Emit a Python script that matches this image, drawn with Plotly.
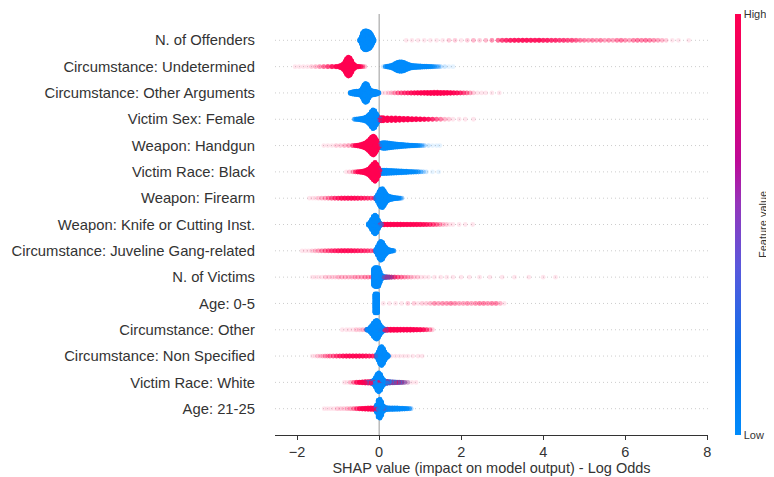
import plotly.graph_objects as go

# ---------------- data ----------------
FEATURES = [
    "N. of Offenders",
    "Circumstance: Undetermined",
    "Circumstance: Other Arguments",
    "Victim Sex: Female",
    "Weapon: Handgun",
    "Victim Race: Black",
    "Weapon: Firearm",
    "Weapon: Knife or Cutting Inst.",
    "Circumstance: Juveline Gang-related",
    "N. of Victims",
    "Age: 0-5",
    "Circumstance: Other",
    "Circumstance: Non Specified",
    "Victim Race: White",
    "Age: 21-25",
]

X_TICKS = [-2, 0, 2, 4, 6, 8]
COLORBAR_LABELS = ["Low", "High"]

# each entry: [SHAP value, approximate number of samples]
offenders_low = [[-0.47, 100], [-0.43, 400], [-0.40, 800], [-0.37, 950], [-0.34, 1000], [-0.31, 1000],
                 [-0.28, 950], [-0.25, 900], [-0.22, 800], [-0.19, 600], [-0.16, 350], [-0.13, 120]]
offenders_high = [[0.66, 1], [0.8, 1], [0.95, 1], [1.1, 1], [1.25, 1], [1.4, 1], [1.55, 1], [1.7, 2], [1.85, 2],
                  [2.0, 1], [2.15, 2], [2.3, 3], [2.45, 2], [2.6, 3], [2.75, 5], [2.9, 8], [3.0, 12], [3.1, 15],
                  [3.2, 18], [3.3, 20], [3.4, 20], [3.5, 22], [3.6, 22], [3.7, 20], [3.8, 20], [3.9, 22], [4.0, 18],
                  [4.1, 18], [4.2, 15], [4.3, 15], [4.4, 13], [4.5, 13], [4.6, 11], [4.7, 11], [4.8, 9], [4.9, 7],
                  [5.0, 6], [5.1, 5], [5.2, 6], [5.3, 5], [5.4, 6], [5.5, 4], [5.6, 5], [5.7, 4], [5.8, 6],
                  [5.9, 7], [6.0, 5], [6.1, 4], [6.2, 6], [6.3, 7], [6.4, 6], [6.5, 7], [6.6, 6], [6.7, 5],
                  [6.8, 4], [6.9, 3], [7.0, 2], [7.15, 1], [7.3, 1], [7.55, 1]]

undetermined_low = [[0.1, 2], [0.15, 15], [0.2, 40], [0.25, 80], [0.3, 130], [0.35, 220], [0.4, 350], [0.45, 450],
                    [0.5, 500], [0.55, 500], [0.6, 450], [0.65, 350], [0.7, 250], [0.75, 180], [0.8, 140],
                    [0.85, 110], [0.9, 95], [0.95, 80], [1.0, 70], [1.05, 60], [1.1, 50], [1.15, 40], [1.2, 30],
                    [1.25, 22], [1.3, 15], [1.35, 10], [1.4, 7], [1.45, 5], [1.5, 3], [1.6, 2], [1.7, 1], [1.8, 1]]
undetermined_high = [[-2.05, 1], [-1.95, 1], [-1.85, 1], [-1.75, 1], [-1.65, 2], [-1.55, 3], [-1.45, 5],
                     [-1.35, 8], [-1.25, 12], [-1.15, 20], [-1.05, 35], [-0.97, 70], [-0.92, 150], [-0.87, 300],
                     [-0.83, 550], [-0.79, 850], [-0.75, 1000], [-0.71, 900], [-0.67, 600], [-0.63, 300],
                     [-0.59, 130], [-0.55, 60], [-0.5, 30], [-0.45, 15], [-0.4, 7], [-0.35, 3]]

arguments_low = [[-0.7, 60], [-0.65, 120], [-0.6, 160], [-0.55, 180], [-0.5, 200], [-0.45, 280], [-0.41, 500],
                 [-0.37, 850], [-0.33, 1000], [-0.29, 900], [-0.25, 550], [-0.21, 300], [-0.17, 220],
                 [-0.13, 200], [-0.09, 170], [-0.05, 110], [-0.01, 40]]
arguments_high = [[0.08, 1], [0.15, 1], [0.22, 2], [0.3, 3], [0.38, 5], [0.46, 8], [0.54, 10], [0.62, 13],
                  [0.7, 16], [0.78, 20], [0.86, 25], [0.94, 30], [1.02, 38], [1.1, 45], [1.18, 55], [1.26, 65],
                  [1.34, 70], [1.42, 70], [1.5, 65], [1.58, 55], [1.66, 45], [1.74, 35], [1.82, 26], [1.9, 20],
                  [1.98, 15], [2.06, 10], [2.14, 7], [2.22, 4], [2.3, 2], [2.4, 1], [2.5, 1], [2.6, 1],
                  [2.75, 1], [2.93, 1]]

female_low = [[-0.6, 15], [-0.55, 30], [-0.5, 50], [-0.45, 80], [-0.4, 120], [-0.35, 170], [-0.31, 250],
              [-0.27, 380], [-0.23, 550], [-0.19, 800], [-0.15, 1000], [-0.11, 900], [-0.07, 600],
              [-0.03, 300], [0.01, 120], [0.05, 40]]
female_high = [[0.0, 150], [0.05, 160], [0.1, 160], [0.2, 150], [0.3, 140], [0.4, 130], [0.5, 115], [0.6, 100],
               [0.7, 85], [0.8, 70], [0.9, 55], [1.0, 42], [1.1, 32], [1.2, 22], [1.3, 15], [1.4, 9],
               [1.5, 6], [1.6, 3], [1.7, 2], [1.8, 1], [1.95, 1], [2.1, 1], [2.3, 1]]

handgun_low = [[0.03, 200], [0.07, 280], [0.11, 300], [0.15, 300], [0.2, 280], [0.25, 250], [0.3, 220],
               [0.35, 190], [0.4, 170], [0.45, 150], [0.5, 130], [0.55, 110], [0.6, 95], [0.65, 80], [0.7, 65],
               [0.75, 50], [0.8, 40], [0.85, 30], [0.9, 22], [0.95, 15], [1.0, 10], [1.05, 6], [1.1, 4],
               [1.2, 2], [1.3, 1], [1.4, 1], [1.48, 1]]
handgun_high = [[-1.35, 1], [-1.25, 1], [-1.15, 1], [-1.05, 2], [-0.95, 2], [-0.85, 3], [-0.75, 4], [-0.65, 10],
                [-0.58, 25], [-0.52, 50], [-0.46, 100], [-0.4, 170], [-0.35, 250], [-0.3, 380], [-0.26, 520],
                [-0.22, 700], [-0.18, 900], [-0.14, 1000], [-0.1, 850], [-0.06, 550], [-0.02, 250], [0.02, 80]]

black_low = [[0.03, 150], [0.07, 180], [0.12, 180], [0.18, 170], [0.24, 160], [0.3, 150], [0.36, 140],
             [0.42, 125], [0.48, 110], [0.54, 95], [0.6, 80], [0.66, 65], [0.72, 50], [0.78, 38], [0.84, 28],
             [0.9, 18], [0.96, 12], [1.02, 7], [1.08, 4], [1.15, 2], [1.3, 1], [1.45, 1]]
black_high = [[-0.8, 1], [-0.72, 2], [-0.64, 4], [-0.58, 10], [-0.52, 22], [-0.46, 45], [-0.4, 80], [-0.35, 130],
              [-0.3, 200], [-0.26, 300], [-0.22, 450], [-0.18, 650], [-0.14, 850], [-0.1, 1000], [-0.06, 800],
              [-0.02, 450], [0.02, 150]]

firearm_low = [[-0.08, 100], [-0.04, 350], [0.0, 700], [0.04, 950], [0.08, 1000], [0.12, 800], [0.16, 500],
               [0.2, 300], [0.24, 200], [0.28, 150], [0.32, 110], [0.36, 80], [0.4, 55], [0.44, 35],
               [0.48, 20], [0.52, 10], [0.56, 4]]
firearm_high = [[-1.7, 1], [-1.62, 1], [-1.55, 1], [-1.48, 2], [-1.4, 3], [-1.32, 4], [-1.24, 6], [-1.16, 9],
                [-1.08, 13], [-1.0, 17], [-0.92, 21], [-0.84, 24], [-0.76, 26], [-0.68, 26], [-0.6, 24],
                [-0.52, 21], [-0.44, 18], [-0.36, 15], [-0.28, 13], [-0.2, 11], [-0.12, 9], [-0.06, 6]]

knife_low = [[-0.26, 80], [-0.22, 250], [-0.18, 550], [-0.14, 850], [-0.1, 1000], [-0.06, 850], [-0.02, 450],
             [0.02, 150], [0.06, 40]]
knife_high = [[0.02, 40], [0.06, 45], [0.12, 48], [0.2, 48], [0.28, 47], [0.36, 45], [0.44, 43], [0.52, 41],
              [0.6, 39], [0.68, 37], [0.76, 34], [0.84, 31], [0.92, 28], [1.0, 25], [1.08, 22], [1.16, 18],
              [1.24, 14], [1.32, 11], [1.4, 8], [1.48, 5], [1.56, 3], [1.64, 2], [1.72, 1], [1.8, 1],
              [1.95, 1], [2.1, 1], [2.28, 1]]

gang_low = [[-0.08, 150], [-0.04, 450], [0.0, 800], [0.04, 1000], [0.08, 900], [0.12, 600], [0.16, 350],
            [0.2, 200], [0.24, 120], [0.28, 70], [0.32, 40], [0.36, 15]]
gang_high = [[-1.88, 1], [-1.8, 1], [-1.72, 1], [-1.64, 2], [-1.56, 3], [-1.48, 4], [-1.4, 6], [-1.32, 8],
             [-1.24, 10], [-1.16, 13], [-1.08, 16], [-1.0, 19], [-0.92, 21], [-0.84, 22], [-0.76, 22],
             [-0.68, 21], [-0.6, 19], [-0.52, 17], [-0.44, 15], [-0.36, 13], [-0.28, 11], [-0.2, 9],
             [-0.12, 7], [-0.06, 5]]

victims_low = [[-0.13, 900], [-0.1, 1000], [-0.07, 1000], [-0.04, 1000], [-0.01, 950], [0.02, 600],
               [0.06, 200], [0.1, 80], [0.15, 40], [0.2, 20], [0.25, 10], [0.3, 5], [0.35, 3]]
victims_high = [[-1.63, 1], [-1.55, 1], [-1.47, 1], [-1.39, 1], [-1.31, 2], [-1.23, 2], [-1.15, 2], [-1.07, 2],
                [-0.99, 3], [-0.91, 3], [-0.83, 3], [-0.75, 3], [-0.67, 3], [-0.59, 4], [-0.51, 4], [-0.43, 4],
                [-0.35, 5], [-0.27, 5], [-0.19, 6], [0.06, 22], [0.12, 22], [0.18, 20], [0.24, 18], [0.3, 15],
                [0.38, 12], [0.46, 9], [0.54, 7], [0.62, 5], [0.7, 4], [0.78, 3], [0.86, 2], [0.94, 2],
                [1.02, 1], [1.1, 1], [1.2, 1], [1.35, 1], [1.5, 1], [1.65, 1], [1.8, 1], [2.0, 1], [2.2, 1],
                [2.45, 1], [2.7, 1], [3.0, 1], [3.3, 1], [3.65, 1], [4.0, 1], [4.3, 1]]

age05_low = [[-0.1, 1000], [-0.07, 1000], [-0.04, 1000]]
age05_high = [[0.1, 1], [0.25, 1], [0.4, 1], [0.55, 1], [0.7, 2], [0.85, 2], [0.95, 1], [1.05, 2], [1.15, 2],
              [1.25, 3], [1.35, 5], [1.45, 4], [1.55, 5], [1.65, 5], [1.75, 6], [1.85, 5], [1.95, 4],
              [2.05, 4], [2.15, 5], [2.25, 4], [2.35, 5], [2.45, 6], [2.55, 6], [2.65, 5], [2.75, 6],
              [2.85, 6], [2.95, 3], [3.05, 1]]

other_low = [[-0.3, 40], [-0.26, 100], [-0.22, 250], [-0.18, 450], [-0.14, 700], [-0.1, 900], [-0.06, 1000],
             [-0.02, 850], [0.02, 550], [0.06, 300], [0.1, 150], [0.14, 60], [0.18, 20]]
other_high = [[-0.9, 1], [-0.8, 1], [-0.72, 1], [-0.64, 1], [-0.56, 2], [-0.48, 2], [-0.4, 3], [-0.32, 3],
              [-0.24, 4], [0.04, 40], [0.08, 60], [0.14, 70], [0.2, 75], [0.28, 75], [0.36, 70], [0.44, 66],
              [0.52, 62], [0.6, 58], [0.68, 55], [0.76, 52], [0.84, 46], [0.92, 38], [1.0, 30], [1.08, 20],
              [1.16, 11], [1.24, 5], [1.3, 2]]

nonspec_low = [[-0.06, 150], [-0.02, 450], [0.02, 850], [0.06, 1000], [0.1, 800], [0.14, 450], [0.18, 200],
               [0.22, 60]]
nonspec_high = [[-1.63, 1], [-1.56, 1], [-1.5, 2], [-1.44, 2], [-1.38, 3], [-1.32, 4], [-1.26, 5], [-1.2, 7],
                [-1.12, 9], [-1.04, 12], [-0.96, 16], [-0.88, 20], [-0.8, 24], [-0.72, 26], [-0.64, 27],
                [-0.56, 27], [-0.48, 26], [-0.4, 24], [-0.32, 21], [-0.24, 18], [-0.16, 15], [-0.08, 11],
                [0.22, 1], [0.3, 1], [0.4, 1], [0.5, 1], [0.6, 1], [0.7, 1], [0.82, 1], [0.95, 1], [1.05, 1]]

white_low = [[-0.35, 10], [-0.28, 25], [-0.22, 60], [-0.17, 130], [-0.13, 250], [-0.09, 500], [-0.05, 850],
             [-0.01, 1000], [0.03, 850], [0.07, 500], [0.11, 250], [0.15, 140], [0.2, 90], [0.26, 70],
             [0.32, 55], [0.38, 40], [0.44, 28], [0.5, 18], [0.56, 10], [0.62, 5], [0.7, 2]]
white_high = [[-0.85, 1], [-0.78, 1], [-0.7, 3], [-0.62, 7], [-0.55, 18], [-0.48, 35], [-0.41, 55],
              [-0.34, 70], [-0.27, 80], [-0.2, 90], [-0.13, 100], [-0.06, 110], [0.0, 110], [0.06, 100],
              [0.13, 85], [0.2, 65], [0.27, 50], [0.34, 38], [0.41, 27], [0.48, 18], [0.55, 11], [0.62, 6],
              [0.7, 3], [0.8, 1], [0.9, 1]]

age2125_low = [[-0.1, 80], [-0.06, 400], [-0.02, 900], [0.02, 1000], [0.06, 700], [0.1, 300], [0.14, 150],
               [0.2, 100], [0.26, 90], [0.32, 85], [0.38, 80], [0.44, 75], [0.5, 65], [0.56, 50], [0.62, 38],
               [0.68, 25], [0.74, 12], [0.78, 4]]
age2125_high = [[-1.34, 1], [-1.26, 1], [-1.18, 1], [-1.1, 1], [-1.02, 2], [-0.94, 2], [-0.86, 2], [-0.78, 3],
                [-0.7, 4], [-0.62, 6], [-0.55, 11], [-0.48, 22], [-0.41, 38], [-0.34, 55], [-0.27, 70],
                [-0.2, 80], [-0.13, 90], [-0.06, 90], [0.0, 70], [0.06, 35], [0.12, 18], [0.2, 8], [0.3, 4]]

LOW = [offenders_low, undetermined_low, arguments_low, female_low, handgun_low, black_low, firearm_low,
       knife_low, gang_low, victims_low, age05_low, other_low, nonspec_low, white_low, age2125_low]
HIGH = [offenders_high, undetermined_high, arguments_high, female_high, handgun_high, black_high, firearm_high,
        knife_high, gang_high, victims_high, age05_high, other_high, nonspec_high, white_high, age2125_high]

# ---------------- style ----------------
COLORSCALE = [[0.0, "#008bfb"], [0.2, "#0a70ec"], [0.4, "#5a58dc"], [0.55, "#9535bb"],
              [0.65, "#bd0a98"], [0.8, "#e2006f"], [1.0, "#ff0051"]]
ALPHA = 0.1           # opacity of one sample
HALF_WIDTH = 0.36     # max half height of a swarm (in rows)
MAX_MARKS = 60        # marks drawn for the densest bin of a feature
FONT = "Liberation Sans, Arial, sans-serif"

xs, ys, cs, ops = [], [], [], []
n_feat = len(FEATURES)
for i in range(n_feat):
    row = n_feat - 1 - i
    groups = [(LOW[i], 0.0), (HIGH[i], 1.0)]
    cmax = max(c for g, _ in groups for _, c in g)
    pts = []
    for g, val in groups:
        for x, c in g:
            m = max(min(c, 6), round(c * MAX_MARKS / cmax))
            hw = HALF_WIDTH * c / cmax
            op = 1 - (1 - ALPHA) ** (c / m)
            for k in range(m):
                off = 0.0 if m == 1 else -hw + 2 * hw * k / (m - 1)
                pts.append((x, row + off, val, op))
    # interleave the two colour groups in a fixed, well-mixed drawing order
    order = sorted(range(len(pts)), key=lambda j: (j * 0.6180339887) % 1.0)
    for j in order:
        x, y, v, o = pts[j]
        xs.append(x)
        ys.append(y)
        cs.append(v)
        ops.append(o)

fig = go.Figure()

fig.add_trace(go.Scatter(
    x=xs, y=ys, mode="markers", hoverinfo="skip",
    marker=dict(
        size=4.8, color=cs, cmin=0, cmax=1, colorscale=COLORSCALE, opacity=ops,
        line=dict(width=0),
        showscale=True,
        colorbar=dict(
            x=1.0624, xanchor="left", xpad=0, y=0.5, yanchor="middle", ypad=0,
            len=1.0, lenmode="fraction", thickness=6, outlinewidth=0,
            tickvals=[0.0005, 0.9995], ticktext=COLORBAR_LABELS, ticks="",
            tickfont=dict(family=FONT, size=11, color="#333333"),
        ),
    ),
))

shapes = []
for r in range(n_feat):
    shapes.append(dict(type="line", xref="paper", yref="y", x0=0, x1=1, y0=r, y1=r,
                       line=dict(color="#cccccc", width=1, dash="1px,3px"), layer="below"))
shapes.append(dict(type="line", xref="x", yref="paper", x0=0, x1=0, y0=0, y1=1,
                   line=dict(color="#999999", width=1), layer="below"))

# the page adds an 8px body margin, so the figure is 8px smaller than the window
fig.update_layout(
    width=766, height=469,
    margin=dict(l=267, r=66, t=6, b=42, autoexpand=False),
    paper_bgcolor="white", plot_bgcolor="white",
    showlegend=False,
    font=dict(family=FONT, color="#333333"),
    shapes=shapes,
    annotations=[dict(text="Feature value", textangle=-90, xref="paper", yref="paper",
                      x=1.126, y=0.5, xanchor="center", yanchor="middle", showarrow=False,
                      font=dict(family=FONT, size=11, color="#333333"))],
    xaxis=dict(
        range=[-2.54, 8.02], tickvals=X_TICKS, showgrid=False, zeroline=False,
        showline=True, linecolor="#333333", linewidth=1,
        ticks="outside", ticklen=4, tickcolor="#333333",
        tickfont=dict(family=FONT, size=14.5, color="#333333"),
        title=dict(text="SHAP value (impact on model output) - Log Odds",
                   font=dict(family=FONT, size=14.5, color="#333333"), standoff=3),
        automargin=False,
    ),
    yaxis=dict(
        range=[-1, 15], tickvals=list(range(n_feat)), ticktext=FEATURES[::-1],
        showgrid=False, zeroline=False, showline=False, ticks="",
        ticklabelstandoff=19,
        tickfont=dict(family=FONT, size=14.8, color="#333333"),
        automargin=False,
    ),
)

fig.write_html("out.html")
